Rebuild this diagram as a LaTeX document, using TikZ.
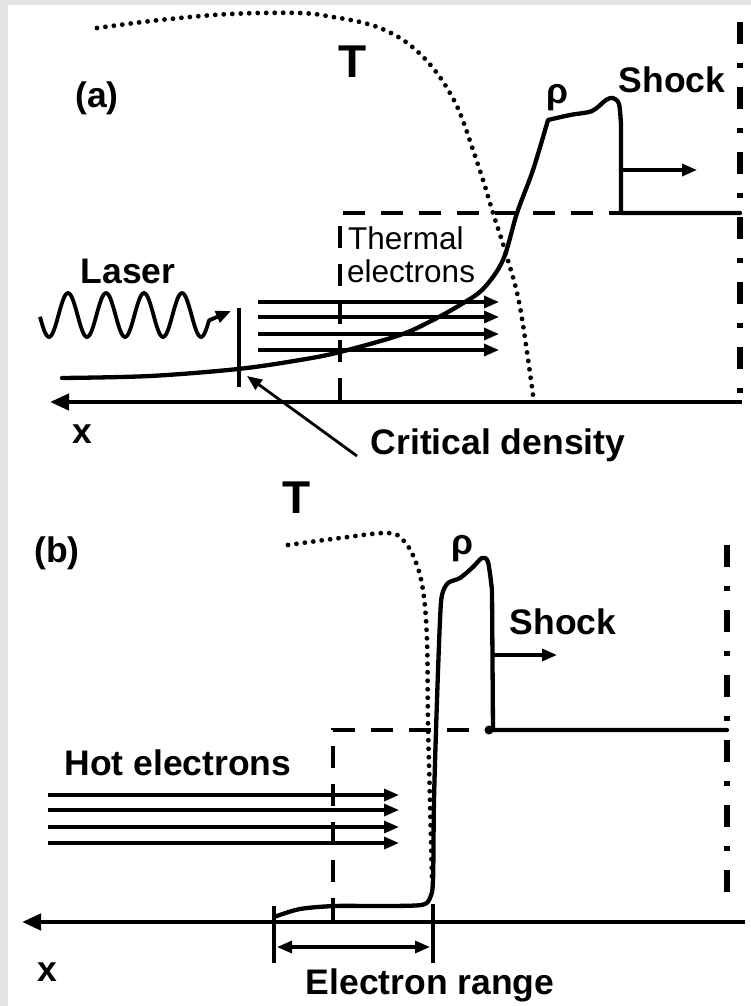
\documentclass[tikz,border=0pt]{standalone}
\usepackage{fontspec}
\setmainfont{Liberation Sans}
\usetikzlibrary{arrows.meta}
\begin{document}
\begin{tikzpicture}[x=1pt,y=-1pt,
  lab/.style={font=\fontsize{35.5}{42}\selectfont\bfseries, inner sep=0pt},
  biglab/.style={font=\fontsize{46}{52}\selectfont\bfseries, inner sep=0pt},
  reglab/.style={font=\fontsize{31.5}{36}\selectfont, inner sep=0pt},
  curve/.style={line width=4.3pt, line join=round, line cap=round},
  dotcurve/.style={line width=4.8pt, line cap=round, dash pattern=on 0pt off 8.5pt},
  dashline/.style={line width=4pt, dash pattern=on 22pt off 16pt},
  dashdot/.style={line width=6.5pt, dash pattern=on 22pt off 19pt on 5pt off 19pt},
  tip/.style={-{Triangle[length=15pt,width=12pt]}},
  arr/.style={line width=3.2pt, tip},
  axis/.style={line width=4.3pt, -{Triangle[length=19pt,width=16pt]}}
]
\fill[black!10] (0,0) rectangle (751,1006);
\fill[white] (8,5) rectangle (751,1006);
\useasboundingbox (0,0) rectangle (751,1006);

% ================= panel (a) =================
\coordinate (aR) at (742,402);
\coordinate (aL) at (50,402);
\draw[axis] (aR) -- (aL);
\node[lab] (xa) at (82,434) {x};
\node[lab] (la) at (97,98) {(a)};
\node[biglab] (Ta) at (353,62) {T};
\node[lab] (rhoa) at (557,98) {ρ};
\node[lab] (shocka) at (672,80) {Shock};
\node[lab] (laser) at (128,271) {Laser};
\node[lab] (cd) at (498,445) {Critical density};
\node[reglab, anchor=base west] (therm) at (348,249) {Thermal};
\node[reglab, anchor=base west] (elec) at (347,282) {electrons};

% dash-dot target boundary
\coordinate (ddaT) at (740,22);
\coordinate (ddaB) at (740,400);
\draw[dashdot] (ddaT) -- (ddaB);

% dashed initial density
\coordinate (daC) at (340,213);
\coordinate (daB) at (340,400);
\coordinate (daR) at (621,213);
\draw[dashline] (daB) -- (daC) -- (daR);

% temperature (dotted)
\draw[dotcurve] plot[smooth, tension=0.6] coordinates {(97,28) (160,20) (230,14) (300,13) (333,17) (360,22) (380,28) (400,38) (417,51) (433,68) (447,88) (460,113) (473,150) (483,180) (493,213) (507,257) (520,307) (533,395)};

% density (solid)
\draw[curve] plot[smooth, tension=0.55] coordinates {(62,378) (150,376) (238,369) (300,360) (340,352) (400,335) (433,320) (460,305) (483,289) (503,260) (517,213) (533,170) (548,120)}
  -- plot[smooth, tension=0.5] coordinates {(548,120) (570,115) (592,111) (606,100) (613,98) (619,104) (621,125)}
  -- (621,213) -- (740,213);

% shock arrow
\coordinate (sa1) at (622,170);
\coordinate (sa2) at (697,170);
\draw[arr] (sa1) -- (sa2);

% laser wave
\draw[line width=3.8pt, line join=round, tip] plot[domain=40:209, samples=150, smooth] (\x,{315-22*sin((\x-58.5)*9.47368)}) -- (231,311);

% critical density bar and pointer
\coordinate (cbT) at (239,308);
\coordinate (cbB) at (239,387);
\draw[line width=4.5pt] (cbT) -- (cbB);
\coordinate (cdtail) at (357,456);
\coordinate (crit) at (247,376);
\draw[line width=2.8pt, tip] (cdtail) -- (crit);

% thermal electron arrows
\foreach \yy/\n in {302/1,317/2,334/3,350/4}{
  \coordinate (te\n s) at (258,\yy);
  \coordinate (te\n e) at (499,\yy);
  \draw[arr] (te\n s) -- (te\n e);
}

% ================= panel (b) =================
\coordinate (bR) at (745,922);
\coordinate (bL) at (22,922);
\draw[axis] (bR) -- (bL);
\node[lab] (xb) at (47,972) {x};
\node[lab] (lb) at (57,553) {(b)};
\node[biglab] (Tb) at (297,498) {T};
\node[lab] (rhob) at (462,549) {ρ};
\node[lab] (shockb) at (563,622) {Shock};
\node[lab] (hot) at (178,763) {Hot electrons};
\node[lab] (erange) at (430,985) {Electron range};

% dash-dot
\coordinate (ddbT) at (727,545);
\coordinate (ddbB) at (727,895);
\draw[dashdot] (ddbT) -- (ddbB);

% dashed initial density
\coordinate (dbC) at (333,730);
\coordinate (dbB) at (333,920);
\coordinate (dbR) at (493,730);
\draw[dashline] (dbB) -- (dbC) -- (dbR);

% temperature dotted
\draw[dotcurve] plot[smooth, tension=0.6] coordinates {(288,545) (340,538) (387,533) (403,540) (415,560) (423,590) (427,640) (428,723) (430,800) (432,880)};

% density solid
\draw[curve] plot[smooth, tension=0.5] coordinates {(274,917) (300,909) (335,906) (380,906) (421,905) (430,898) (433,880) (434,800) (437,700) (440,620) (442,595) (448,583) (460,578) (473,567) (482,558) (488,562) (492,590)}
  -- (493,730) -- (727,730);
\fill (489,730) circle (4.5pt);

% shock arrow
\coordinate (sb1) at (493,655);
\coordinate (sb2) at (557,655);
\draw[arr] (sb1) -- (sb2);

% hot electron arrows
\foreach \yy/\n in {795/1,810/2,827/3,843/4}{
  \coordinate (he\n s) at (48,\yy);
  \coordinate (he\n e) at (399,\yy);
  \draw[arr] (he\n s) -- (he\n e);
}

% electron range
\coordinate (er1T) at (274,906);
\coordinate (er1B) at (274,963);
\coordinate (er2T) at (433,904);
\coordinate (er2B) at (433,963);
\draw[line width=4pt] (er1T) -- (er1B);
\draw[line width=4pt] (er2T) -- (er2B);
\coordinate (era) at (277,947);
\coordinate (erb) at (430,947);
\draw[line width=3.2pt, {Triangle[length=15pt,width=12pt]}-{Triangle[length=15pt,width=12pt]}] (era) -- (erb);
\end{tikzpicture}
\end{document}
